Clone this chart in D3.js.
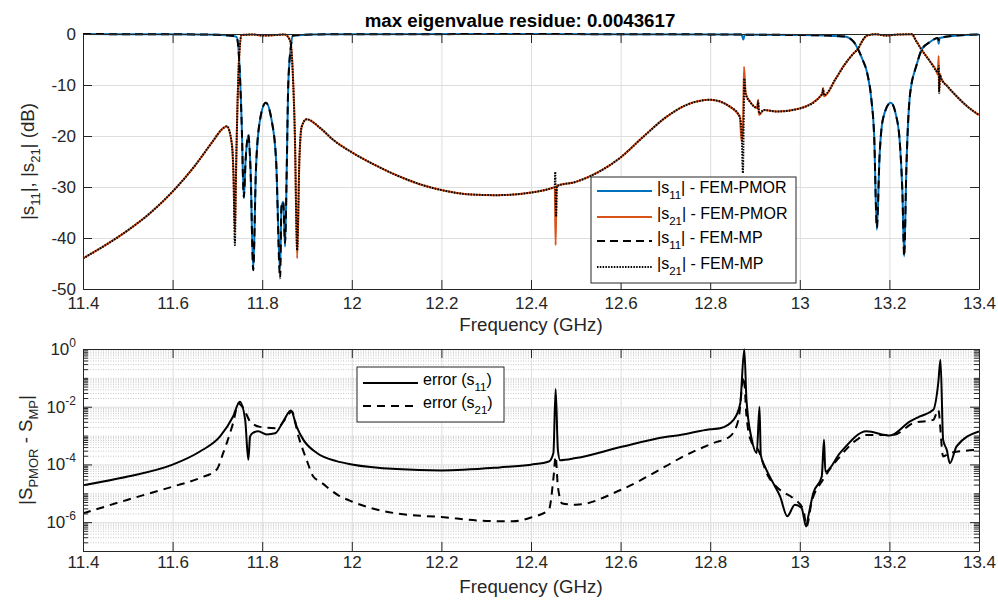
<!DOCTYPE html>
<html>
<head>
<meta charset="utf-8">
<script src="https://cdnjs.cloudflare.com/ajax/libs/d3/7.8.5/d3.min.js"></script>
<style>
  body { margin: 0; background: #fff; }
  svg { display: block; font-family: "Liberation Sans", Arial, Helvetica, sans-serif; }
  .grid line { stroke: #dedede; stroke-width: 1; }
  .grid path { display: none; }
  .minor line { stroke: #c9c9c9; stroke-width: 1; stroke-dasharray: 1,1.5; }
  .minor path { display: none; }
  .axis text { font-family: "Liberation Sans", Arial, Helvetica, sans-serif; font-size: 17px; fill: #262626; }
  .axis path, .axis line { stroke: #262626; stroke-width: 1; }
  .noline path { display: none; }
</style>
</head>
<body>
<svg width="998" height="601"></svg>
<script>
// tick values
let freqTicks = [11.4, 11.6, 11.8, 12, 12.2, 12.4, 12.6, 12.8, 13, 13.2, 13.4];
let dbTicks = [0, -10, -20, -30, -40, -50];
let errTicks = [1e0, 1e-2, 1e-4, 1e-6];

// |s11| FEM-PMOR (GHz, dB)
let s11Pmor = [
  [11.40, -0.02], [11.60, -0.05], [11.70, -0.15], [11.735, -0.4], [11.743, -0.6],
  [11.749, -5.7], [11.754, -16.9], [11.759, -32.2], [11.763, -24.7], [11.769, -19.8],
  [11.774, -26.7], [11.780, -46.3], [11.786, -26.7], [11.795, -16.9], [11.808, -13.5],
  [11.821, -16.9], [11.831, -24.7], [11.840, -46.0], [11.843, -33.9], [11.847, -32.9],
  [11.851, -41.7], [11.855, -25.4], [11.858, -10.3], [11.864, -2.5], [11.869, -0.3],
  [11.95, -0.05], [12.40, -0.02], [12.87, -0.1], [12.874, -1.1], [12.877, -0.15],
  [13.00, -0.2], [13.06, -0.3], [13.10, -0.5], [13.12, -1.5], [13.13, -3.0],
  [13.14, -5.0], [13.15, -7.5], [13.16, -13.0], [13.166, -20.0], [13.172, -38.4],
  [13.178, -24.0], [13.186, -16.5], [13.203, -13.5], [13.215, -16.0], [13.223, -21.0],
  [13.229, -31.0], [13.233, -43.6], [13.238, -26.0], [13.246, -11.9], [13.261, -6.0],
  [13.272, -3.1], [13.29, -1.6], [13.308, -0.8], [13.310, -1.9], [13.312, -0.8],
  [13.35, -0.3], [13.40, -0.1]
];

// |s21| FEM-PMOR
let s21Pmor = [
  [11.40, -44.0], [11.45, -41.4], [11.50, -38.5], [11.55, -35.1], [11.60, -30.9],
  [11.65, -25.8], [11.69, -21.0], [11.710, -18.7], [11.721, -18.1], [11.732, -21.4],
  [11.736, -28.0], [11.739, -39.0], [11.741, -30.0], [11.744, -16.9], [11.749, -3.8],
  [11.754, -0.2], [11.78, -0.1], [11.80, -0.3], [11.83, -0.2], [11.85, -0.1],
  [11.862, -1.2], [11.868, -7.1], [11.873, -20.1], [11.878, -44.0], [11.883, -24.7],
  [11.888, -18.2], [11.899, -16.7], [11.929, -18.4], [11.959, -20.8], [12.00, -23.2],
  [12.05, -25.6], [12.10, -27.7], [12.15, -29.4], [12.20, -30.6], [12.256, -31.4],
  [12.323, -31.6], [12.40, -31.1], [12.45, -30.1], [12.453, -30.0], [12.455, -41.4],
  [12.457, -29.8], [12.50, -29.0], [12.554, -26.9], [12.60, -24.2], [12.65, -20.2],
  [12.70, -16.4], [12.75, -13.8], [12.80, -12.9], [12.843, -14.2], [12.866, -16.2],
  [12.870, -21.0], [12.873, -19.0], [12.8755, -6.4], [12.879, -11.5], [12.889, -13.3],
  [12.905, -14.5], [12.907, -12.9], [12.909, -15.9], [12.92, -14.9], [12.948, -15.2],
  [13.00, -14.6], [13.05, -11.8], [13.052, -10.6], [13.054, -12.2], [13.08, -8.8],
  [13.10, -6.0], [13.12, -3.8], [13.13, -2.9], [13.14, -1.3], [13.15, -0.3],
  [13.17, -0.05], [13.19, -0.3], [13.22, -0.1], [13.25, -0.05], [13.26, -1.4],
  [13.272, -3.1], [13.29, -5.3], [13.305, -7.3], [13.308, -8.0], [13.310, -4.3],
  [13.311, -11.2], [13.313, -7.8], [13.315, -8.6], [13.33, -10.3], [13.35, -12.2],
  [13.37, -13.9], [13.40, -15.9]
];

// |s11| FEM-MP
let s11Mp = [
  [11.40, -0.02], [11.60, -0.05], [11.70, -0.15], [11.735, -0.4], [11.743, -0.6],
  [11.749, -5.7], [11.754, -16.9], [11.759, -32.0], [11.763, -24.7], [11.769, -19.8],
  [11.774, -26.7], [11.780, -46.3], [11.786, -26.7], [11.795, -16.9], [11.808, -13.5],
  [11.821, -16.9], [11.831, -24.7], [11.840, -47.9], [11.843, -33.9], [11.847, -32.9],
  [11.851, -41.0], [11.855, -25.4], [11.858, -10.3], [11.864, -2.5], [11.869, -0.3],
  [11.95, -0.05], [12.40, -0.02], [12.87, -0.1], [12.874, -0.3], [12.877, -0.15],
  [13.00, -0.2], [13.06, -0.3], [13.10, -0.5], [13.12, -1.5], [13.13, -3.0],
  [13.14, -5.0], [13.15, -7.5], [13.16, -13.0], [13.166, -20.0], [13.172, -38.0],
  [13.178, -24.0], [13.186, -16.5], [13.203, -13.5], [13.215, -16.0], [13.223, -21.0],
  [13.229, -31.0], [13.233, -43.6], [13.238, -26.0], [13.246, -11.9], [13.261, -6.0],
  [13.272, -3.1], [13.29, -1.6], [13.308, -0.8], [13.310, -1.2], [13.312, -0.8],
  [13.35, -0.3], [13.40, -0.1]
];

// |s21| FEM-MP
let s21Mp = [
  [11.40, -44.0], [11.45, -41.4], [11.50, -38.5], [11.55, -35.1], [11.60, -30.9],
  [11.65, -25.8], [11.69, -21.0], [11.710, -18.7], [11.721, -18.1], [11.732, -21.4],
  [11.736, -28.0], [11.739, -41.4], [11.741, -30.0], [11.744, -16.9], [11.749, -3.8],
  [11.754, -0.2], [11.78, -0.1], [11.80, -0.3], [11.83, -0.2], [11.85, -0.1],
  [11.862, -1.2], [11.868, -7.1], [11.873, -20.1], [11.878, -42.4], [11.883, -24.7],
  [11.888, -18.2], [11.899, -16.7], [11.929, -18.4], [11.959, -20.8], [12.00, -23.2],
  [12.05, -25.6], [12.10, -27.7], [12.15, -29.4], [12.20, -30.6], [12.256, -31.4],
  [12.323, -31.6], [12.40, -31.1], [12.45, -30.1], [12.453, -30.0], [12.454, -27.0],
  [12.456, -35.8], [12.458, -29.8], [12.50, -29.0], [12.554, -26.9], [12.60, -24.2],
  [12.65, -20.2], [12.70, -16.4], [12.75, -13.8], [12.80, -12.9], [12.843, -14.2],
  [12.866, -16.2], [12.870, -19.0], [12.873, -27.3], [12.875, -15.0], [12.876, -8.7],
  [12.879, -11.8], [12.889, -13.3], [12.905, -14.5], [12.907, -13.2], [12.909, -15.6],
  [12.92, -14.9], [12.948, -15.2], [13.00, -14.6], [13.05, -11.8], [13.052, -10.8],
  [13.054, -12.0], [13.08, -8.8], [13.10, -6.0], [13.12, -3.8], [13.13, -2.9],
  [13.14, -1.3], [13.15, -0.3], [13.17, -0.05], [13.19, -0.3], [13.22, -0.1],
  [13.25, -0.05], [13.26, -1.4], [13.272, -3.1], [13.29, -5.3], [13.305, -7.3],
  [13.308, -7.6], [13.310, -6.3], [13.311, -11.6], [13.313, -8.0], [13.315, -8.6],
  [13.33, -10.3], [13.35, -12.2], [13.37, -13.9], [13.40, -15.9]
];

// error (s11), |S_PMOR - S_MP|
let err11 = [
  [11.40, 1.9e-5], [11.50, 3.8e-5], [11.60, 9.8e-5], [11.661, 2.8e-4], [11.706, 9.3e-4],
  [11.735, 4.6e-3], [11.750, 1.5e-2], [11.762, 3.5e-3], [11.769, 1.45e-4], [11.773, 9.3e-4],
  [11.780, 1.26e-3], [11.791, 1.4e-3], [11.810, 1.1e-3], [11.829, 1.2e-3], [11.847, 3.1e-3],
  [11.864, 7.4e-3], [11.877, 2.0e-3], [11.892, 7.1e-4], [11.922, 2.5e-4], [11.966, 1.3e-4],
  [12.00, 1.0e-4], [12.10, 6.9e-5], [12.20, 6.2e-5], [12.33, 7.9e-5], [12.40, 9.8e-5],
  [12.44, 1.26e-4], [12.45, 2.5e-4], [12.455, 4.1e-2], [12.46, 3.2e-4], [12.465, 1.4e-4],
  [12.50, 1.66e-4], [12.60, 4.0e-4], [12.70, 8.9e-4], [12.733, 1.05e-3], [12.80, 1.66e-3],
  [12.822, 1.8e-3], [12.852, 3.5e-3], [12.867, 1.3e-2], [12.876, 0.98], [12.881, 1.7e-2],
  [12.893, 7.1e-4], [12.904, 2.5e-4], [12.910, 1.0e-2], [12.913, 2.1e-4], [12.922, 8.5e-5],
  [12.941, 2.2e-5], [12.956, 7.8e-6], [12.972, 1.6e-6], [12.989, 4.0e-6], [13.004, 3.1e-6],
  [13.014, 7.1e-7], [13.019, 1.6e-6], [13.03, 1.0e-5], [13.049, 3.8e-5], [13.054, 7.1e-4],
  [13.057, 5.6e-5], [13.09, 2.5e-4], [13.149, 1.4e-3], [13.201, 1.0e-3], [13.246, 3.1e-3],
  [13.268, 4.6e-3], [13.298, 7.8e-3], [13.309, 6.5e-2], [13.314, 0.42], [13.32, 7.1e-4],
  [13.328, 3.2e-4], [13.335, 1.1e-4], [13.35, 4.2e-4], [13.40, 1.4e-3]
];

// error (s21)
let err21 = [
  [11.40, 2.0e-6], [11.50, 6.0e-6], [11.60, 1.7e-5], [11.661, 3.4e-5], [11.698, 6.5e-5],
  [11.713, 2.5e-4], [11.735, 2.7e-3], [11.747, 1.3e-2], [11.758, 8.9e-3], [11.773, 3.1e-3],
  [11.795, 2.0e-3], [11.832, 1.8e-3], [11.856, 4.6e-3], [11.866, 6.8e-3], [11.881, 9.3e-4],
  [11.899, 1.45e-4], [11.914, 3.8e-5], [11.93, 2.5e-5], [11.97, 8.5e-6], [12.00, 5.2e-6],
  [12.10, 2.0e-6], [12.20, 1.5e-6], [12.30, 1.1e-6], [12.36, 1.07e-6], [12.40, 1.45e-6],
  [12.44, 2.7e-6], [12.45, 3.2e-5], [12.455, 1.9e-4], [12.46, 1.7e-5], [12.47, 4.4e-6],
  [12.50, 4.0e-6], [12.60, 1.3e-5], [12.70, 8.5e-5], [12.733, 1.66e-4], [12.807, 5.5e-4],
  [12.844, 9.3e-4], [12.863, 3.5e-3], [12.875, 0.11], [12.881, 4.6e-3], [12.893, 5.5e-4],
  [12.907, 3.2e-4], [12.926, 5.0e-5], [12.956, 1.3e-5], [12.985, 6.8e-6], [13.008, 2.7e-6],
  [13.015, 7.1e-7], [13.026, 4.6e-6], [13.052, 3.0e-5], [13.09, 1.9e-4], [13.127, 7.1e-4],
  [13.149, 1.05e-3], [13.209, 1.05e-3], [13.253, 2.7e-3], [13.298, 3.5e-3], [13.309, 7.8e-3],
  [13.32, 1.9e-4], [13.335, 2.5e-4], [13.40, 3.2e-4]
];

let titleText = 'max eigenvalue residue: 0.0043617';
let legendTop = [
  { pre: '|s', sub: '11', post: '| - FEM-PMOR' },
  { pre: '|s', sub: '21', post: '| - FEM-PMOR' },
  { pre: '|s', sub: '11', post: '| - FEM-MP' },
  { pre: '|s', sub: '21', post: '| - FEM-MP' }
];
let legendBot = [
  { pre: 'error (s', sub: '11', post: ')' },
  { pre: 'error (s', sub: '21', post: ')' }
];

let svg = d3.select('svg');

let left = 83;
let right = 979;
let top1 = 34, bot1 = 289;
let top2 = 349, bot2 = 551;

let x = d3.scaleLinear().domain([11.4, 13.4]).range([left, right]);
let yDb = d3.scaleLinear().domain([-50, 0]).range([bot1, top1]);
let yErr = d3.scaleLog().domain([1e-7, 1]).range([bot2, top2]);

let isMajor = v => errTicks.some(t => Math.abs(Math.log10(t) - Math.log10(v)) < 1e-6);
let minorTicks = yErr.ticks().filter(v => !isMajor(v));

// ---------- grids ----------
let drawGrid = (yTop, yBot, yScale, yVals) => {
  svg.append('g')
     .attr('class', 'grid')
     .attr('transform', 'translate(0,' + yBot + ')')
     .call(d3.axisBottom(x).tickValues(freqTicks).tickSize(-(yBot - yTop)).tickFormat(''));
  svg.append('g')
     .attr('class', 'grid')
     .attr('transform', 'translate(' + left + ',0)')
     .call(d3.axisLeft(yScale).tickValues(yVals).tickSize(-(right - left)).tickFormat(''));
};

svg.append('g')
   .attr('class', 'minor')
   .attr('transform', 'translate(' + left + ',0)')
   .call(d3.axisLeft(yErr).tickValues(minorTicks).tickSize(-(right - left)).tickFormat(''));
drawGrid(top1, bot1, yDb, dbTicks);
drawGrid(top2, bot2, yErr, errTicks);

// ---------- clip ----------
let defs = svg.append('defs');
defs.append('clipPath').attr('id', 'clip1')
    .append('rect').attr('x', left).attr('y', top1 - 2).attr('width', right - left).attr('height', bot1 - top1 + 2);
defs.append('clipPath').attr('id', 'clip2')
    .append('rect').attr('x', left).attr('y', top2 - 1).attr('width', right - left).attr('height', bot2 - top2 + 1);

// ---------- lines ----------
let lineDb = d3.line().x(d => x(d[0])).y(d => yDb(d[1])).curve(d3.curveMonotoneX);
let lineErr = d3.line().x(d => x(d[0])).y(d => yErr(d[1])).curve(d3.curveMonotoneX);

let g1 = svg.append('g').attr('clip-path', 'url(#clip1)');
let topSeries = [
  { data: s11Pmor, color: '#0072BD', dash: null, w: 2 },
  { data: s21Pmor, color: '#D95319', dash: null, w: 2 },
  { data: s11Mp, color: '#000', dash: '8,5', w: 2 },
  { data: s21Mp, color: '#000', dash: '1.5,1.3', w: 2 }
];
topSeries.forEach(s => {
  g1.append('path')
    .datum(s.data)
    .attr('fill', 'none')
    .attr('stroke', s.color)
    .attr('stroke-width', s.w)
    .attr('stroke-dasharray', s.dash)
    .attr('d', lineDb);
});

let g2 = svg.append('g').attr('clip-path', 'url(#clip2)');
let botSeries = [
  { data: err11, dash: null },
  { data: err21, dash: '8,6' }
];
botSeries.forEach(s => {
  g2.append('path')
    .datum(s.data)
    .attr('fill', 'none')
    .attr('stroke', '#000')
    .attr('stroke-width', 2)
    .attr('stroke-dasharray', s.dash)
    .attr('d', lineErr);
});

// ---------- axes ----------
let drawAxes = (yTop, yBot, yScale, yVals, xPad) => {
  svg.append('g').attr('class', 'axis')
     .attr('transform', 'translate(0,' + yBot + ')')
     .call(d3.axisBottom(x).tickValues(freqTicks).tickSize(-9).tickSizeOuter(0).tickPadding(xPad).tickFormat(d => String(d)))
     .style('color', '#262626');
  svg.append('g').attr('class', 'axis')
     .attr('transform', 'translate(0,' + yTop + ')')
     .call(d3.axisTop(x).tickValues(freqTicks).tickSize(-9).tickSizeOuter(0).tickFormat(''))
     .style('color', '#262626');
  let la = svg.append('g').attr('class', 'axis')
     .attr('transform', 'translate(' + left + ',0)')
     .call(d3.axisLeft(yScale).tickValues(yVals).tickSize(-9).tickSizeOuter(0).tickPadding(7).tickFormat(d => String(d)))
     .style('color', '#262626');
  svg.append('g').attr('class', 'axis')
     .attr('transform', 'translate(' + right + ',0)')
     .call(d3.axisRight(yScale).tickValues(yVals).tickSize(-9).tickSizeOuter(0).tickFormat(''))
     .style('color', '#262626');
  return la;
};

drawAxes(top1, bot1, yDb, dbTicks, 8);
let errLeft = drawAxes(top2, bot2, yErr, errTicks, 5);

// powers of ten with superscript
errLeft.selectAll('.tick text').each(function(d) {
  let t = d3.select(this).text('');
  t.append('tspan').text('10');
  t.append('tspan').attr('dy', '-8').style('font-size', '12px').text(Math.round(Math.log10(d)));
});

// minor ticks on the log axis
svg.append('g').attr('class', 'axis noline')
   .attr('transform', 'translate(' + left + ',0)')
   .call(d3.axisLeft(yErr).tickValues(minorTicks).tickSize(-5).tickFormat(''))
   .style('color', '#262626');
svg.append('g').attr('class', 'axis noline')
   .attr('transform', 'translate(' + right + ',0)')
   .call(d3.axisRight(yErr).tickValues(minorTicks).tickSize(-5).tickFormat(''))
   .style('color', '#262626');

// ---------- labels ----------
svg.append('text')
   .attr('x', 520).attr('y', 26.5)
   .attr('text-anchor', 'middle')
   .style('font-size', '18.7px').style('font-weight', 'bold').attr('fill', '#000')
   .text(titleText);

[bot1 + 42, bot2 + 42].forEach(yy => {
  svg.append('text')
     .attr('x', (left + right) / 2).attr('y', yy)
     .attr('text-anchor', 'middle')
     .style('font-size', '18.7px').attr('fill', '#262626')
     .text('Frequency (GHz)');
});

let yLab1 = svg.append('text')
   .attr('transform', 'translate(34,' + (top1 + bot1) / 2 + ') rotate(-90)')
   .attr('text-anchor', 'middle')
   .style('font-size', '18.7px').attr('fill', '#262626');
yLab1.append('tspan').text('|s');
yLab1.append('tspan').attr('dy', 6).style('font-size', '13px').text('11');
yLab1.append('tspan').attr('dy', -6).text('|, |s');
yLab1.append('tspan').attr('dy', 6).style('font-size', '13px').text('21');
yLab1.append('tspan').attr('dy', -6).text('| (dB)');

let yLab2 = svg.append('text')
   .attr('transform', 'translate(32,' + (top2 + bot2) / 2 + ') rotate(-90)')
   .attr('text-anchor', 'middle')
   .style('font-size', '18.7px').attr('fill', '#262626');
yLab2.append('tspan').text('|S');
yLab2.append('tspan').attr('dy', 6).style('font-size', '13px').text('PMOR');
yLab2.append('tspan').attr('dy', -6).text(' - S');
yLab2.append('tspan').attr('dy', 6).style('font-size', '13px').text('MP');
yLab2.append('tspan').attr('dy', -6).text('|');

// ---------- legends ----------
let drawLegend = (bx, by, bw, bh, items, styles, rowY, sampleX0, sampleX1, textX) => {
  let lg = svg.append('g');
  lg.append('rect')
    .attr('x', bx).attr('y', by).attr('width', bw).attr('height', bh)
    .attr('fill', '#fff').attr('stroke', '#262626').attr('stroke-width', 1);
  items.forEach((it, i) => {
    let yy = rowY[i];
    let st = styles[i];
    lg.append('line')
      .attr('x1', sampleX0).attr('x2', sampleX1).attr('y1', yy).attr('y2', yy)
      .attr('stroke', st.color).attr('stroke-width', st.w).attr('stroke-dasharray', st.dash);
    let t = lg.append('text')
      .attr('x', textX).attr('y', yy + 2)
      .style('font-size', '16px').attr('fill', '#000');
    t.append('tspan').text(it.pre);
    t.append('tspan').attr('dy', 6).style('font-size', '11.5px').text(it.sub);
    t.append('tspan').attr('dy', -6).text(it.post);
  });
};

drawLegend(591, 177, 205, 106, legendTop, topSeries, [191, 217, 241, 267], 597, 652, 657);
drawLegend(357, 367, 147, 55,
  legendBot,
  [{ color: '#000', dash: null, w: 2 }, { color: '#000', dash: '8,6', w: 2 }],
  [383, 406], 363, 418, 423);
</script>
</body>
</html>
